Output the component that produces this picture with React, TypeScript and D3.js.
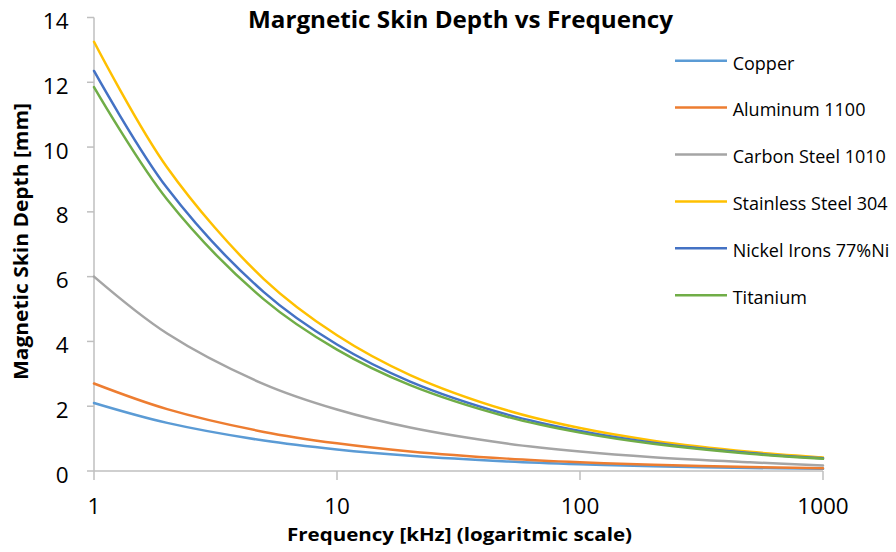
import React from "react";
import * as d3 from "d3";

const frequencies = [1, 2, 5, 10, 20, 50, 100, 200, 500, 1000];
const copper = [2.1, 1.485, 0.939, 0.664, 0.47, 0.297, 0.21, 0.148, 0.094, 0.066];
const aluminum = [2.7, 1.909, 1.207, 0.854, 0.604, 0.382, 0.27, 0.191, 0.121, 0.085];
const carbonSteel = [6.0, 4.243, 2.683, 1.897, 1.342, 0.849, 0.6, 0.424, 0.268, 0.17];
const stainless = [13.25, 9.369, 5.926, 4.19, 2.963, 1.874, 1.325, 0.937, 0.593, 0.419];
const nickel = [12.35, 8.733, 5.523, 3.905, 2.762, 1.747, 1.235, 0.873, 0.552, 0.391];
const titanium = [11.85, 8.379, 5.299, 3.747, 2.65, 1.676, 1.185, 0.838, 0.53, 0.375];

const seriesNames = ["Copper", "Aluminum 1100", "Carbon Steel 1010", "Stainless Steel 304", "Nickel Irons 77%Ni", "Titanium"];
const seriesValues = [copper, aluminum, carbonSteel, stainless, nickel, titanium];
const colors = ["#5B9BD5", "#ED7D31", "#A5A5A5", "#FFC000", "#4472C4", "#70AD47"];
const xTicks = [1, 10, 100, 1000];
const yTicks = [0, 2, 4, 6, 8, 10, 12, 14];

const W = 896;
const H = 552;
const left = 94;
const right = 823;
const top = 17.5;
const bottom = 471;
const FONT = "'Open Sans', 'DejaVu Sans', sans-serif";

export default function App() {
  const x = d3.scaleLog().domain([1, 1000]).range([left, right]);
  const y = d3.scaleLinear().domain([0, 14]).range([bottom, top]);
  const line = d3
    .line<[number, number]>()
    .x((d) => x(d[0]))
    .y((d) => y(d[1]))
    .curve(d3.curveCatmullRom.alpha(0.5));

  const legendX = 675;
  const legendY0 = 60.7;
  const legendStep = 46.9;

  return (
    <svg width={W} height={H} style={{ position: "absolute", left: 0, top: 0, background: "#fff" }}>
      <text
        x={460.5}
        y={27.5}
        textAnchor="middle"
        fontFamily={FONT}
        fontWeight="bold"
        fontSize={22.5}
        textLength={425}
        lengthAdjust="spacingAndGlyphs"
        fill="#000"
      >
        Margnetic Skin Depth vs Frequency
      </text>
      {/* axes */}
      <line x1={left} x2={left} y1={top} y2={bottom} stroke="#BFBFBF" strokeWidth={1.5} />
      <line x1={left} x2={right} y1={bottom} y2={bottom} stroke="#BFBFBF" strokeWidth={1.5} />
      {yTicks.map((t) => (
        <g key={"y" + t}>
          <line x1={left - 7} x2={left} y1={y(t)} y2={y(t)} stroke="#BFBFBF" strokeWidth={1.5} />
          <text x={68.5} y={y(t) + 11.5} textAnchor="end" fontFamily={FONT} fontSize={22.5} fill="#000">
            {t}
          </text>
        </g>
      ))}
      {xTicks.map((t) => (
        <g key={"x" + t}>
          <line x1={x(t)} x2={x(t)} y1={bottom} y2={bottom + 9} stroke="#BFBFBF" strokeWidth={1.5} />
          <text x={x(t)} y={513.5} textAnchor="middle" fontFamily={FONT} fontSize={22.5} fill="#000">
            {t}
          </text>
        </g>
      ))}
      <text
        x={459.5}
        y={541}
        textAnchor="middle"
        fontFamily={FONT}
        fontWeight="bold"
        fontSize={18.5}
        textLength={345}
        lengthAdjust="spacingAndGlyphs"
        fill="#000"
      >
        Frequency [kHz] (logaritmic scale)
      </text>
      <text
        transform={`translate(28,241.5) rotate(-90)`}
        textAnchor="middle"
        fontFamily={FONT}
        fontWeight="bold"
        fontSize={19}
        textLength={277}
        lengthAdjust="spacingAndGlyphs"
        fill="#000"
      >
        Magnetic Skin Depth [mm]
      </text>
      {/* series */}
      {seriesValues.map((vals, i) => (
        <path
          key={seriesNames[i]}
          d={line(frequencies.map((f, j) => [f, vals[j]] as [number, number])) || ""}
          fill="none"
          stroke={colors[i]}
          strokeWidth={2.5}
          strokeLinejoin="round"
          strokeLinecap="round"
        />
      ))}
      {/* legend */}
      {seriesNames.map((n, i) => (
        <g key={"lg" + n}>
          <line
            x1={legendX}
            x2={legendX + 52}
            y1={legendY0 + i * legendStep}
            y2={legendY0 + i * legendStep}
            stroke={colors[i]}
            strokeWidth={2.5}
          />
          <text x={732.7} y={legendY0 + i * legendStep + 8.8} fontFamily={FONT} fontSize={18} fill="#000">
            {n}
          </text>
        </g>
      ))}
    </svg>
  );
}
